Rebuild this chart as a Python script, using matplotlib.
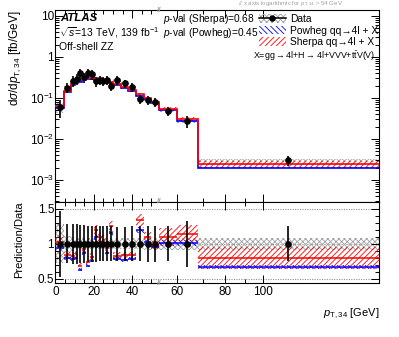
import numpy as np
import matplotlib
matplotlib.use("Agg")
import matplotlib.pyplot as plt
from matplotlib.patches import Patch
from matplotlib.lines import Line2D
from matplotlib.ticker import FixedLocator, LogLocator, MultipleLocator, NullFormatter

plt.rcParams['font.family'] = ['Liberation Sans', 'DejaVu Sans']
plt.rcParams['mathtext.fontset'] = 'custom'
plt.rcParams['mathtext.rm'] = 'Liberation Sans'
plt.rcParams['mathtext.it'] = 'Liberation Sans:italic'
plt.rcParams['mathtext.bf'] = 'Liberation Sans:bold'
plt.rcParams['hatch.linewidth'] = 0.6

# ---------------- data ----------------
edges = [0, 4.5, 8, 10, 12, 14, 16, 18, 20, 22, 24, 26, 28, 30, 34, 38, 42, 46, 50, 54, 60, 68, 200]
data = [0.060, 0.179, 0.262, 0.294, 0.40, 0.32, 0.41, 0.38, 0.254, 0.27, 0.264, 0.28,
        0.20, 0.27, 0.226, 0.185, 0.093, 0.091, 0.081, 0.049, 0.027, 0.0030]
data_tot_rel = [0.47, 0.28, 0.29, 0.29, 0.27, 0.27, 0.26, 0.26, 0.26, 0.25, 0.25, 0.25,
                0.25, 0.24, 0.24, 0.25, 0.25, 0.26, 0.26, 0.25, 0.33, 0.25]
data_sys_rel = [0.28, 0.12, 0.10, 0.09, 0.08, 0.08, 0.08, 0.08, 0.08, 0.08, 0.08, 0.08,
                0.08, 0.08, 0.08, 0.08, 0.08, 0.09, 0.09, 0.09, 0.09, 0.085]
sherpa = [0.062, 0.150, 0.215, 0.250, 0.275, 0.295, 0.305, 0.31, 0.305, 0.295, 0.28, 0.265,
          0.25, 0.225, 0.19, 0.155, 0.125, 0.10, 0.080, 0.054, 0.031, 0.0024]
sherpa_rel = [0.06] * 19 + [0.11, 0.11, 0.20]
powheg = [0.0564, 0.143, 0.204, 0.235, 0.252, 0.278, 0.283, 0.289, 0.279, 0.27, 0.259, 0.244,
          0.232, 0.211, 0.174, 0.146, 0.112, 0.093, 0.077, 0.0495, 0.0273, 0.0020]
powheg_rel = [0.035] * 19 + [0.04, 0.04, 0.04]
pval_sherpa = 0.68
pval_powheg = 0.45
xbreak = 54.0

edges = np.array(edges, float)
data = np.array(data); sherpa = np.array(sherpa); powheg = np.array(powheg)
data_tot_rel = np.array(data_tot_rel); data_sys_rel = np.array(data_sys_rel)
sherpa_rel = np.array(sherpa_rel); powheg_rel = np.array(powheg_rel)

K = 87.5
def fwd(x):
    x = np.asarray(x, float)
    xs = np.maximum(x, 1e-9)
    return np.where(x <= xbreak, x, xbreak + K * np.log(xs / xbreak))
def inv(u):
    u = np.asarray(u, float)
    return np.where(u <= xbreak, u, xbreak * np.exp((u - xbreak) / K))

lo, hi = edges[:-1], edges[1:]
widths = hi - lo
centers = inv((fwd(lo) + fwd(hi)) / 2)

fig = plt.figure(figsize=(3.99, 3.37), dpi=100)
ax1 = fig.add_axes([0.139, 0.4006, 0.811, 0.5697])
ax2 = fig.add_axes([0.139, 0.1602, 0.811, 0.2404], sharex=ax1)

for ax in (ax1, ax2):
    ax.set_xscale('function', functions=(fwd, inv))
ax1.set_xlim(0, 200)
ax1.set_yscale('log')
ax1.set_ylim(2.9e-4, 14)
ax2.set_ylim(0.44, 1.6)

RED = '#ff0000'
BLUE = '#0000ff'
GREY = '#a0a0a0'

def hatch_boxes(ax, y, rel_dn, rel_up, color, hatch, z):
    ax.bar(lo, y * (rel_up - rel_dn), bottom=y * rel_dn, width=widths, align='edge',
           fill=False, edgecolor=color, hatch=hatch, linewidth=0, zorder=z)

# ---------- top panel ----------
hatch_boxes(ax1, data, 1 - data_sys_rel, 1 + data_sys_rel, GREY, 'xxxxxx', 1)
hatch_boxes(ax1, powheg, 1 - powheg_rel, 1 + powheg_rel, BLUE, '\\\\\\\\\\\\', 2)
hatch_boxes(ax1, sherpa, 1 - sherpa_rel, 1 + sherpa_rel, RED, '//////', 3)
ax1.stairs(powheg, edges, baseline=None, color=BLUE, linewidth=1.2, zorder=4)
ax1.stairs(sherpa, edges, baseline=None, color=RED, linewidth=1.2, zorder=5)
ax1.errorbar(centers, data, yerr=data * data_tot_rel, fmt='o', color='black',
             markersize=3.8, elinewidth=1.2, capsize=0, zorder=6)

# ---------- ratio panel ----------
for yy in (0.5, 1.0, 1.5):
    ax2.axhline(yy, color='#909090', linestyle=(0, (1, 1.2)), linewidth=0.8, zorder=0)
ones = np.ones_like(data)
hatch_boxes(ax2, ones, 1 - data_sys_rel, 1 + data_sys_rel, GREY, 'xxxxxx', 1)
r_pw = powheg / data
r_sh = sherpa / data
hatch_boxes(ax2, r_pw, 1 - powheg_rel, 1 + powheg_rel, BLUE, '\\\\\\\\\\\\', 2)
hatch_boxes(ax2, r_sh, 1 - sherpa_rel, 1 + sherpa_rel, RED, '//////', 3)
ax2.hlines(r_pw, lo, hi, color=BLUE, linewidth=1.1, zorder=4)
ax2.hlines(r_sh, lo, hi, color=RED, linewidth=1.1, zorder=5)
ax2.errorbar(centers, ones, yerr=data_tot_rel, fmt='o', color='black',
             markersize=3.8, elinewidth=1.2, capsize=0, zorder=6)

# ---------- ticks ----------
major_x = [0, 20, 40, 60, 80, 100]
minor_x = [5, 10, 15, 25, 30, 35, 45, 50, 70, 90, 200]
for ax in (ax1, ax2):
    ax.xaxis.set_major_locator(FixedLocator(major_x))
    ax.xaxis.set_minor_locator(FixedLocator(minor_x))
    ax.tick_params(which='both', direction='in', top=True, right=True, width=0.7)
    ax.tick_params(which='major', length=5.5)
    ax.tick_params(which='minor', length=3)
    for s in ax.spines.values():
        s.set_linewidth(0.8)
ax1.tick_params(axis='x', labelbottom=False)
ax1.yaxis.set_major_locator(FixedLocator([1e-3, 1e-2, 1e-1, 1, 10]))
ax1.yaxis.set_minor_locator(LogLocator(base=10, subs=np.arange(2, 10) * 1.0, numticks=20))
ax1.yaxis.set_minor_formatter(NullFormatter())
ax1.set_yticklabels([r'$10^{-3}$', r'$10^{-2}$', r'$10^{-1}$', '1', '10'])
ax1.tick_params(axis='y', labelsize=8.5, pad=1)
ax2.set_xticklabels(['0', '20', '40', '60', '80', '100'])
ax2.tick_params(axis='x', labelsize=8.5, pad=2)
ax2.yaxis.set_major_locator(FixedLocator([0.5, 1.0, 1.5]))
ax2.yaxis.set_minor_locator(MultipleLocator(0.1))
ax2.set_yticklabels(['0.5', '1', '1.5'])
ax2.tick_params(axis='y', labelsize=8.5, pad=1)

# break markers
for ax, ys in ((ax1, [1.0]), (ax2, [1.0, 0.0])):
    for yy in ys:
        ax.text(xbreak, yy, '//', transform=ax.get_xaxis_transform(), color='#a0a0a0',
                fontsize=6, ha='center', va='center', fontweight='bold', zorder=10, clip_on=False)

# ---------- texts ----------
W, H = 399.0, 337.0
def ftxt(x, y, s, **kw):
    fig.text(x / W, 1 - y / H, s, **kw)

ftxt(60, 18, 'ATLAS', fontsize=8.2, fontweight='bold', fontstyle='italic', va='center')
ftxt(59, 33, r'$\sqrt{s}$=13 TeV, 139 fb$^{-1}$', fontsize=7.5, va='center')
ftxt(59, 47, 'Off-shell ZZ', fontsize=7.5, va='center')
ftxt(163, 19, r'$p$-val (Sherpa)=%.2f' % pval_sherpa, fontsize=7.3, va='center')
ftxt(163, 33, r'$p$-val (Powheg)=%.2f' % pval_powheg, fontsize=7.3, va='center')
ftxt(253, 56, r'X=gg$\rightarrow$4l+H$\rightarrow$4l+VVV+t$\bar{\rm t}$V(V)', fontsize=6.4, va='center')
ftxt(238, 4, r'// x axis logarithmic for $p_{\rm T,34}$ > 54 GeV', fontsize=4.4, color='#a0a0a0', va='center')

ftxt(15, 10, r'd$\sigma$/d$p_{\rm T,34}$ [fb/GeV]', fontsize=8.5, rotation=90, ha='center', va='top')
ftxt(19, 240, 'Prediction/Data', fontsize=8, rotation=90, ha='center', va='center')
ftxt(379, 314, r'$p_{\rm T,34}$ [GeV]', fontsize=8, ha='right', va='center')

# legend
data_h = (Patch(facecolor='none', edgecolor=GREY, hatch='xxxxxx', linewidth=0),
          Line2D([], [], color='black', marker='o', markersize=3.6, linewidth=1.1))
pw_h = Patch(facecolor='none', edgecolor=BLUE, hatch='\\\\\\\\\\\\', linewidth=0)
sh_h = Patch(facecolor='none', edgecolor=RED, hatch='//////', linewidth=0)
leg = fig.legend([data_h, pw_h, sh_h],
                 [u'Data', u'Powheg qq\u21924l + X', u'Sherpa qq\u21924l + X'],
                 loc='upper left', bbox_to_anchor=(259 / W, 1 - 14 / H),
                 fontsize=7.4, frameon=False, handlelength=2.6, handleheight=0.9,
                 handletextpad=0.4, labelspacing=0.15, borderpad=0, borderaxespad=0)

fig.savefig('out.png', dpi=100)
